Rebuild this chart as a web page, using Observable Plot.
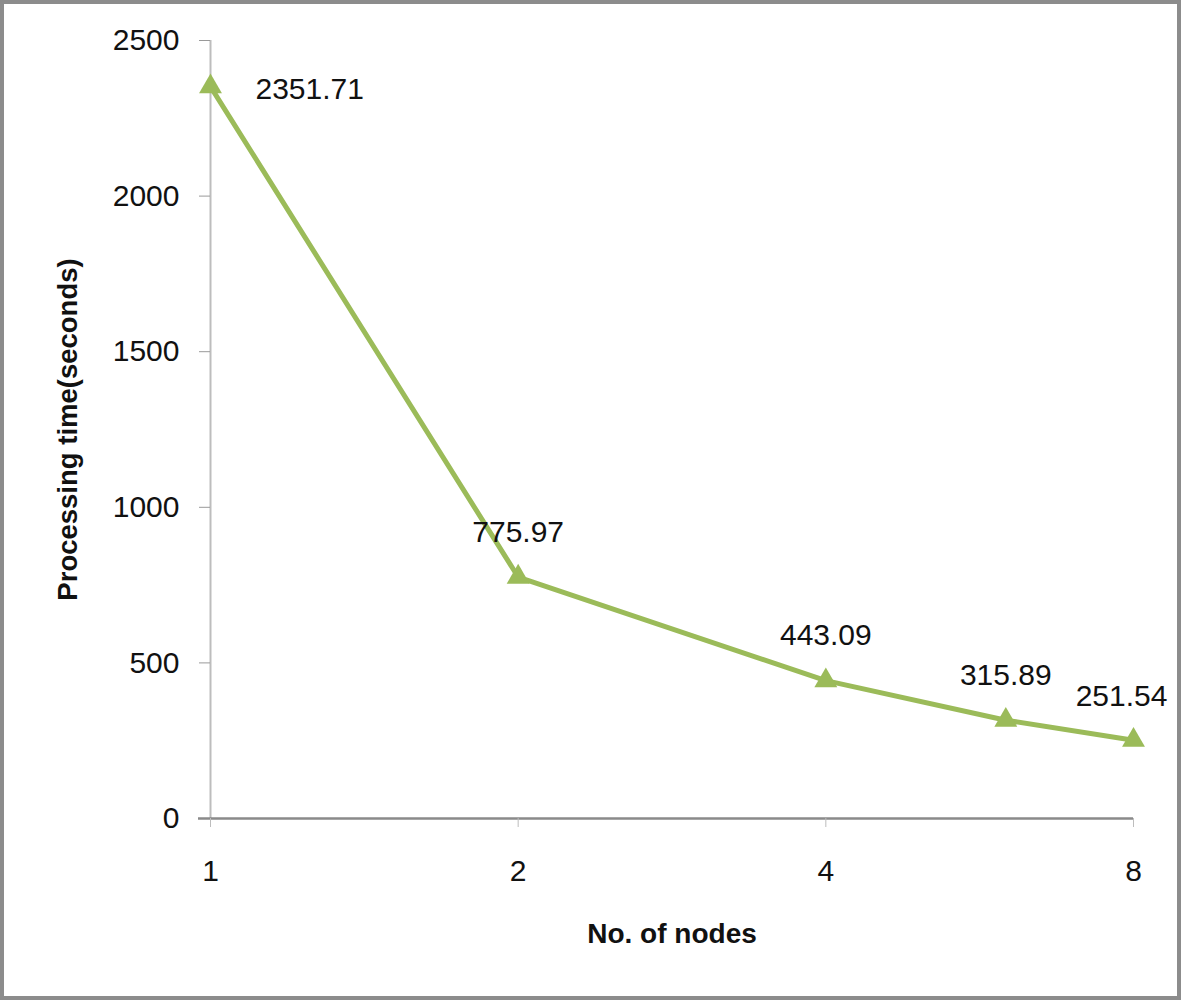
<!DOCTYPE html>
<html>
<head>
<meta charset="utf-8">
<script src="https://cdn.jsdelivr.net/npm/d3@7"></script>
<script src="https://cdn.jsdelivr.net/npm/@observablehq/plot@0.6"></script>
<style>
  html, body { margin: 0; padding: 0; background: #fff; }
  #chart svg { display: block; outline: 4px solid #8c8c8c; outline-offset: -4px; }
</style>
</head>
<body>
<div id="chart"></div>
<script>
const nodes = [1, 2, 4, 6, 8];
const times = [2351.71, 775.97, 443.09, 315.89, 251.54];
const labels = ["2351.71", "775.97", "443.09", "315.89", "251.54"];
const xTicks = [1, 2, 4, 8];
const yTicks = [0, 500, 1000, 1500, 2000, 2500];

const data = nodes.map((n, i) => ({ n, t: times[i], label: labels[i], i }));
const green = "#9bbb59";
const font = "Liberation Sans, Arial, sans-serif";

const chart = Plot.plot({
  width: 1181,
  height: 1000,
  marginLeft: 210,
  marginRight: 48,
  marginTop: 40,
  marginBottom: 182,
  style: { fontFamily: font, fontSize: "30px", color: "#111", background: "#fff" },
  x: { type: "log", base: 2, domain: [1, 8] },
  y: { domain: [0, 2500] },
  marks: [
    Plot.ruleX([1], { y1: 0, y2: 2500, stroke: "#bdbdbd", strokeWidth: 2 }),
    Plot.axisY({ ticks: yTicks, tickFormat: d => String(d), tickSize: 11, tickPadding: 20, stroke: "#999", label: null, fontSize: 30 }),
    Plot.ruleY([0], { stroke: "#8a8a8a", strokeWidth: 2.5, insetLeft: -12 }),
    Plot.axisX({ ticks: xTicks, tickFormat: d => String(d), tickSize: 9, tickPadding: 32, stroke: "#bdbdbd", label: null, fontSize: 30 }),
    Plot.text(["Processing time(seconds)"], { frameAnchor: "left", textAnchor: "middle", dx: -142, rotate: -90, fontWeight: "bold", fontSize: 27.5, fill: "#111" }),
    Plot.text(["No. of nodes"], { frameAnchor: "bottom", dy: 124, fontWeight: "bold", fontSize: 28, fill: "#111" }),
    Plot.line(data, { x: "n", y: "t", stroke: green, strokeWidth: 5 }),
    Plot.dot(data, { x: "n", y: "t", symbol: "triangle", r: 8.5, fill: green, stroke: "none" }),
    Plot.text(data.filter(d => d.i === 0), { x: "n", y: "t", text: "label", textAnchor: "start", dx: 45, dy: 3, fontSize: 30, fill: "#111" }),
    Plot.text(data.filter(d => d.i > 0 && d.i < 4), { x: "n", y: "t", text: "label", dy: -45, fontSize: 30, fill: "#111" }),
    Plot.text(data.filter(d => d.i === 4), { x: "n", y: "t", text: "label", dx: -12, dy: -44, fontSize: 30, fill: "#111" })
  ]
});
document.getElementById("chart").appendChild(chart);
</script>
</body>
</html>
